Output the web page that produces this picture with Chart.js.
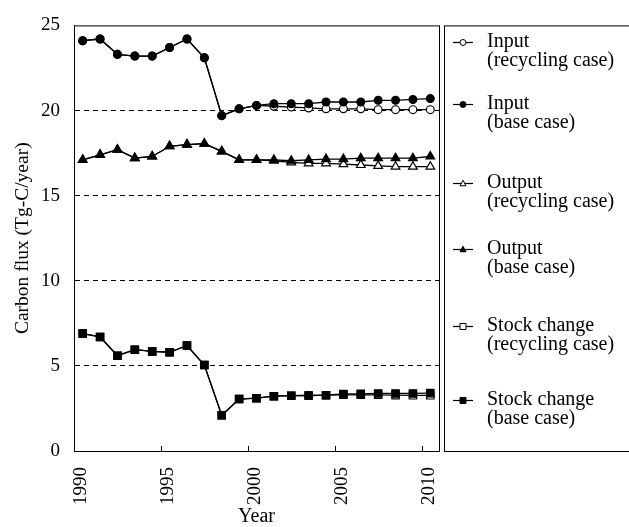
<!DOCTYPE html>
<html>
<head>
<meta charset="utf-8">
<script src="https://cdn.jsdelivr.net/npm/chart.js@4/dist/chart.umd.min.js"></script>
<style>
  html, body { margin: 0; padding: 0; background: #fff; }
  #wrap { width: 629px; height: 527px; }
</style>
</head>
<body>
<div id="wrap"><canvas id="fluxChart" width="629" height="527"></canvas></div>
<script>
// values (Tg-C/year), one per year
const years = [1990, 1991, 1992, 1993, 1994, 1995, 1996, 1997, 1998, 1999, 2000,
    2001, 2002, 2003, 2004, 2005, 2006, 2007, 2008, 2009, 2010]
const inputRecycling = [24.1, 24.2, 23.3, 23.2, 23.2, 23.7, 24.2, 23.1, 19.7, 20.1, 20.3,
    20.25, 20.2, 20.15, 20.1, 20.1, 20.1, 20.05, 20.05, 20.05, 20.05]
const inputBase = [24.1, 24.2, 23.3, 23.2, 23.2, 23.7, 24.2, 23.1, 19.7, 20.1, 20.3,
    20.4, 20.4, 20.4, 20.5, 20.5, 20.5, 20.6, 20.6, 20.65, 20.7]
const outputRecycling = [17.1, 17.4, 17.7, 17.2, 17.3, 17.9, 18.0, 18.05, 17.6, 17.1, 17.1,
    17.05, 16.95, 16.9, 16.9, 16.85, 16.8, 16.75, 16.7, 16.7, 16.7]
const outputBase = [17.1, 17.4, 17.7, 17.2, 17.3, 17.9, 18.0, 18.05, 17.6, 17.1, 17.1,
    17.1, 17.05, 17.1, 17.15, 17.15, 17.2, 17.2, 17.2, 17.2, 17.3]
const stockRecycling = [6.9, 6.7, 5.6, 5.95, 5.85, 5.8, 6.2, 5.05, 2.1, 3.05, 3.1,
    3.22, 3.25, 3.26, 3.28, 3.3, 3.3, 3.3, 3.28, 3.27, 3.27]
const stockBase = [6.9, 6.7, 5.6, 5.95, 5.85, 5.8, 6.2, 5.05, 2.1, 3.05, 3.1,
    3.22, 3.25, 3.26, 3.28, 3.35, 3.36, 3.38, 3.38, 3.38, 3.4]

const xTickYears = [1990, 1995, 2000, 2005, 2010]
const yTickValues = [0, 5, 10, 15, 20, 25]

const seriesNames = [
    ['Input', '(recycling case)'],
    ['Input', '(base case)'],
    ['Output', '(recycling case)'],
    ['Output', '(base case)'],
    ['Stock change', '(recycling case)'],
    ['Stock change', '(base case)']
]
const seriesValues = [inputRecycling, inputBase, outputRecycling, outputBase, stockRecycling, stockBase]
const seriesMarkers = ['circle', 'circle', 'triangle', 'triangle', 'rect', 'rect']
const seriesFilled = [false, true, false, true, false, true]

const serif = 'Liberation Serif, Times New Roman, serif'

// annual values sit in the middle of each year
const toPoints = vals => vals.map((v, i) => ({ x: years[i] + 0.5, y: v }))

function drawMarker(ctx, style, filled, x, y, r) {
    ctx.beginPath()
    if (style === 'circle') {
        ctx.arc(x, y, r, 0, Math.PI * 2)
    } else if (style === 'triangle') {
        ctx.moveTo(x, y - r * 1.1)
        ctx.lineTo(x + r, y + r * 0.75)
        ctx.lineTo(x - r, y + r * 0.75)
        ctx.closePath()
    } else {
        ctx.rect(x - r, y - r, r * 2, r * 2)
    }
    ctx.fillStyle = filled ? '#000' : '#fff'
    ctx.fill()
    ctx.stroke()
}

const frame = {
    id: 'frame',
    afterDraw(chart) {
        const { ctx, chartArea: a, scales } = chart
        ctx.save()
        ctx.strokeStyle = '#000'
        ctx.lineWidth = 1
        ctx.strokeRect(a.left + 0.5, a.top + 0.5, a.right - a.left, a.bottom - a.top)

        // small inward tick marks on the year axis
        xTickYears.forEach(v => {
            const x = Math.round(scales.x.getPixelForValue(v)) + 0.5
            if (x <= a.left + 2) return
            ctx.beginPath()
            ctx.moveTo(x, a.bottom)
            ctx.lineTo(x, a.bottom - 5)
            ctx.stroke()
        })

        // legend box on the right
        const boxLeft = a.right + 5
        ctx.strokeRect(boxLeft + 0.5, a.top + 0.5, 220, a.bottom - a.top)
        const rowY = [42, 104, 183, 249, 326, 400]
        ctx.font = '20px ' + serif
        ctx.textBaseline = 'middle'
        seriesNames.forEach((lines, i) => {
            const y = rowY[i]
            ctx.lineWidth = 1.2
            ctx.beginPath()
            ctx.moveTo(boxLeft + 9, y + 0.5)
            ctx.lineTo(boxLeft + 29, y + 0.5)
            ctx.stroke()
            ctx.lineWidth = 1
            drawMarker(ctx, seriesMarkers[i], seriesFilled[i], boxLeft + 19, y + 0.5, 3)
            ctx.fillStyle = '#000'
            ctx.fillText(lines[0], boxLeft + 43, y)
            ctx.fillText(lines[1], boxLeft + 43, y + 19)
        })
        ctx.restore()
    }
}

const datasets = seriesValues.map((vals, i) => ({
    label: seriesNames[i].join(' '),
    data: toPoints(vals),
    borderColor: '#000',
    borderWidth: 1.3,
    backgroundColor: seriesFilled[i] ? '#000' : '#fff',
    pointBackgroundColor: seriesFilled[i] ? '#000' : '#fff',
    pointBorderColor: '#000',
    pointBorderWidth: 1.2,
    pointStyle: seriesMarkers[i],
    pointRadius: seriesMarkers[i] === 'circle' ? 3.9 : (seriesMarkers[i] === 'triangle' ? 5 : 5.2),
    tension: 0,
    fill: false,
    order: seriesFilled[i] ? 0 : 1
}))

new Chart(document.getElementById('fluxChart').getContext('2d'), {
    type: 'line',
    data: { datasets },
    plugins: [frame],
    options: {
        responsive: false,
        animation: false,
        layout: { padding: { left: 0, top: 15, right: 190, bottom: 0 } },
        plugins: {
            legend: { display: false },
            tooltip: { enabled: false }
        },
        scales: {
            x: {
                type: 'linear',
                min: 1990,
                max: 2011,
                afterBuildTicks: scale => {
                    scale.ticks = xTickYears.map(v => ({ value: v }))
                },
                afterFit: scale => { scale.height = 76 },
                grid: { display: false, drawTicks: false },
                border: { display: true, color: '#000', width: 1 },
                ticks: {
                    minRotation: 90,
                    maxRotation: 90,
                    padding: 16,
                    labelOffset: 7,
                    color: '#000',
                    font: { family: serif, size: 19 },
                    callback: v => String(v)
                },
                title: {
                    display: true,
                    text: 'Year',
                    color: '#000',
                    font: { family: serif, size: 20, lineHeight: 1 },
                    padding: { top: -3, bottom: 0 }
                }
            },
            y: {
                min: 0,
                max: 25,
                afterBuildTicks: scale => {
                    scale.ticks = yTickValues.map(v => ({ value: v }))
                },
                afterFit: scale => { scale.width = 74 },
                grid: {
                    drawTicks: false,
                    color: ctx => (ctx.tick && (ctx.tick.value === 0 || ctx.tick.value === 25)) ? 'rgba(0,0,0,0)' : '#000',
                    lineWidth: 1
                },
                border: { display: true, color: '#000', width: 1, dash: [5, 4] },
                ticks: {
                    padding: 14,
                    color: '#000',
                    font: { family: serif, size: 19 },
                    callback: v => String(v)
                },
                title: {
                    display: true,
                    text: 'Carbon flux (Tg-C/year)',
                    color: '#000',
                    font: { family: serif, size: 19.5, lineHeight: 1.2 },
                    padding: { top: 11, bottom: 0 }
                }
            }
        }
    }
})
</script>
</body>
</html>
